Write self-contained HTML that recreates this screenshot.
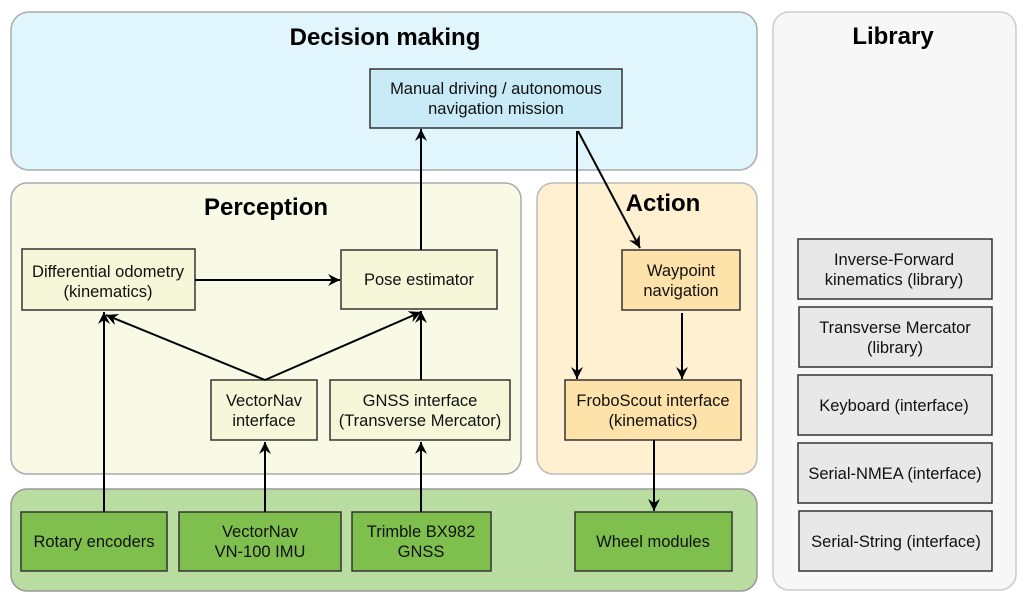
<!DOCTYPE html>
<html><head><style>
html,body{margin:0;padding:0;background:#fff;}
svg text{font-family:"Liberation Sans",Arial,sans-serif;}
.t{font-size:16.5px;fill:#111;text-anchor:middle;}
.h{font-size:24px;font-weight:bold;fill:#000;text-anchor:middle;}
.b{stroke:#333;stroke-width:1.5;}
.a{stroke:#000;stroke-width:2;fill:none;marker-end:url(#ar);}
</style></head><body>
<svg width="1024" height="602" viewBox="0 0 1024 602" xmlns="http://www.w3.org/2000/svg">
<defs><marker id="ar" markerWidth="13" markerHeight="13" refX="12" refY="6" orient="auto" markerUnits="userSpaceOnUse"><path d="M0,0 L12,6 L0,12 L4,6 z" fill="#000"/></marker></defs>
<rect x="11" y="12" width="746" height="158" rx="18" fill="#e1f5fd" stroke="#aaa" stroke-width="1.5"/>
<rect x="11" y="183" width="510" height="291" rx="16" fill="#f9fae6" stroke="#aaa" stroke-width="1.5"/>
<rect x="537" y="183" width="220" height="291" rx="16" fill="#fff0d2" stroke="#bbb" stroke-width="1.5"/>
<rect x="11" y="489" width="746" height="102" rx="16" fill="#b9dca0" stroke="#999" stroke-width="1.5"/>
<rect x="773" y="12" width="243" height="578" rx="16" fill="#f7f7f7" stroke="#ccc" stroke-width="1.5"/>
<text class="h" x="385" y="45">Decision making</text>
<text class="h" x="266" y="215">Perception</text>
<text class="h" x="663" y="211">Action</text>
<text class="h" x="893" y="44">Library</text>

<rect class="b" x="370" y="69" width="252" height="59" fill="#c9ebf8"/>
<text class="t" x="496" y="94">Manual driving / autonomous</text><text class="t" x="496" y="114">navigation mission</text>
<rect class="b" x="22" y="249" width="173" height="61" fill="#f6f6d8"/>
<text class="t" x="108" y="277">Differential odometry</text><text class="t" x="108" y="297">(kinematics)</text>
<rect class="b" x="341" y="250" width="156" height="59" fill="#f6f6d8"/>
<text class="t" x="419" y="285">Pose estimator</text>
<rect class="b" x="211" y="380" width="106" height="60" fill="#f6f6d8"/>
<text class="t" x="264" y="406">VectorNav</text><text class="t" x="264" y="426">interface</text>
<rect class="b" x="330" y="380" width="180" height="60" fill="#f6f6d8"/>
<text class="t" x="420" y="406">GNSS interface</text><text class="t" x="420" y="426">(Transverse Mercator)</text>
<rect class="b" x="622" y="250" width="118" height="60" fill="#fde2a9"/>
<text class="t" x="681" y="276">Waypoint</text><text class="t" x="681" y="296">navigation</text>
<rect class="b" x="565" y="380" width="176" height="60" fill="#fde2a9"/>
<text class="t" x="653" y="406">FroboScout interface</text><text class="t" x="653" y="426">(kinematics)</text>

<rect class="b" x="21" y="512" width="146" height="59" fill="#7fbf4d"/>
<text class="t" x="94" y="547">Rotary encoders</text>
<rect class="b" x="179" y="512" width="162" height="59" fill="#7fbf4d"/>
<text class="t" x="260" y="537">VectorNav</text><text class="t" x="260" y="557">VN-100 IMU</text>
<rect class="b" x="352" y="512" width="139" height="59" fill="#7fbf4d"/>
<text class="t" x="421" y="537">Trimble BX982</text><text class="t" x="421" y="557">GNSS</text>
<rect class="b" x="575" y="512" width="157" height="59" fill="#7fbf4d"/>
<text class="t" x="653" y="547">Wheel modules</text>

<g fill="#e8e8e8">
<rect class="b" x="798" y="239" width="194" height="60"/>
<rect class="b" x="799" y="307" width="193" height="60"/>
<rect class="b" x="798" y="375" width="194" height="60"/>
<rect class="b" x="798" y="443" width="194" height="60"/>
<rect class="b" x="799" y="511" width="193" height="60"/>
</g>
<text class="t" x="894" y="265">Inverse-Forward</text><text class="t" x="894" y="285">kinematics (library)</text>
<text class="t" x="895" y="333">Transverse Mercator</text><text class="t" x="895" y="353">(library)</text>
<text class="t" x="894" y="411">Keyboard (interface)</text>
<text class="t" x="895" y="479">Serial-NMEA (interface)</text>
<text class="t" x="896" y="547">Serial-String (interface)</text>

<line class="a" x1="421" y1="250" x2="421" y2="129"/>
<line class="a" x1="195" y1="280" x2="340" y2="280"/>
<line class="a" x1="265" y1="380" x2="106" y2="315"/>
<line class="a" x1="265" y1="380" x2="421" y2="312"/>
<line class="a" x1="421" y1="380" x2="421" y2="311"/>
<line class="a" x1="104" y1="512" x2="104" y2="312"/>
<line class="a" x1="265" y1="512" x2="265" y2="442"/>
<line class="a" x1="421" y1="512" x2="421" y2="442"/>
<line class="a" x1="577" y1="131" x2="577" y2="379"/>
<line class="a" x1="578" y1="131" x2="640" y2="248"/>
<line class="a" x1="682" y1="313" x2="682" y2="379"/>
<line class="a" x1="654" y1="440" x2="654" y2="511"/>
</svg>
</body></html>
